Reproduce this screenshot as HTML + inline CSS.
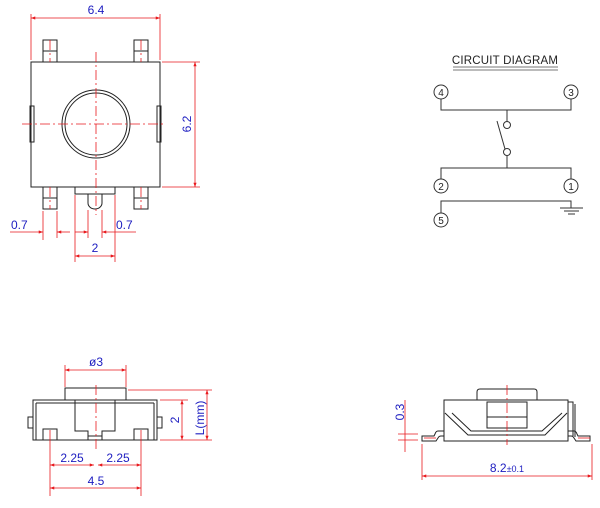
<!DOCTYPE html>
<html><head><style>
html,body{margin:0;padding:0;background:#fff;}
svg{display:block;}
text{font-family:"Liberation Sans",sans-serif;font-size:12px;fill:#1c1cc0;}
.k{stroke:#222;stroke-width:1;fill:none;}
.r{stroke:#e8191d;stroke-width:0.8;fill:none;}
.c{stroke:#e8191d;stroke-width:0.8;fill:none;stroke-dasharray:10 3 2 3;}
.ck{stroke:#333;stroke-width:1;fill:none;}
</style></head><body>
<svg width="600" height="508" viewBox="0 0 600 508" xmlns="http://www.w3.org/2000/svg">
<defs>
<marker id="a" viewBox="0 0 8 6" refX="8" refY="3" markerWidth="6" markerHeight="4" orient="auto-start-reverse"><path d="M0,0L8,3L0,6z" fill="#e8191d"/></marker>
</defs>
<!-- TOP VIEW -->
<rect class="k" x="31" y="62" width="129" height="125"/>
<circle class="k" cx="96" cy="124" r="34"/>
<circle class="k" cx="96" cy="124" r="31"/>
<rect class="k" x="43" y="40" width="14" height="22"/>
<rect class="k" x="134" y="40" width="14" height="22"/>
<rect class="k" x="43" y="187" width="14" height="22"/>
<rect class="k" x="134" y="187" width="14" height="22"/>
<line class="k" x1="43" y1="51" x2="57" y2="51"/><line class="k" x1="134" y1="51" x2="148" y2="51"/>
<line class="k" x1="43" y1="198" x2="57" y2="198"/><line class="k" x1="134" y1="198" x2="148" y2="198"/>
<rect class="k" x="30" y="106" width="4" height="36"/>
<rect class="k" x="157" y="106" width="4" height="36"/>
<rect class="k" x="75" y="187" width="40" height="7"/>
<path class="k" d="M88,194V203A7,6 0 0 0 102,203V194"/>
<line class="c" x1="96" y1="52" x2="96" y2="215"/>
<line class="c" x1="22" y1="124" x2="166" y2="124"/>
<line class="c" x1="50" y1="40" x2="50" y2="62"/><line class="c" x1="141" y1="40" x2="141" y2="62"/>
<line class="c" x1="50" y1="187" x2="50" y2="209"/><line class="c" x1="141" y1="187" x2="141" y2="209"/>
<!-- 6.4 -->
<line class="r" x1="31" y1="14" x2="31" y2="60"/><line class="r" x1="160" y1="14" x2="160" y2="60"/>
<line class="r" x1="31" y1="18" x2="160" y2="18" marker-start="url(#a)" marker-end="url(#a)"/>
<text x="96" y="14" text-anchor="middle">6.4</text>
<!-- 6.2 -->
<line class="r" x1="162" y1="62" x2="200" y2="62"/><line class="r" x1="162" y1="187" x2="200" y2="187"/>
<line class="r" x1="195" y1="62" x2="195" y2="187" marker-start="url(#a)" marker-end="url(#a)"/>
<text transform="translate(191,124) rotate(-90)" text-anchor="middle">6.2</text>
<!-- 0.7 left -->
<line class="r" x1="43" y1="211" x2="43" y2="240"/><line class="r" x1="57" y1="211" x2="57" y2="238"/>
<line class="r" x1="10" y1="232" x2="43" y2="232" marker-end="url(#a)"/>
<line class="r" x1="57" y1="232" x2="70" y2="232" marker-start="url(#a)"/>
<text x="11" y="229">0.7</text>
<!-- 0.7 right -->
<line class="r" x1="75" y1="195" x2="75" y2="262"/><line class="r" x1="115" y1="195" x2="115" y2="262"/>
<line class="r" x1="88" y1="210" x2="88" y2="238"/><line class="r" x1="102" y1="210" x2="102" y2="238"/>
<line class="r" x1="75" y1="232" x2="88" y2="232" marker-end="url(#a)"/>
<line class="r" x1="102" y1="232" x2="136" y2="232" marker-start="url(#a)"/>
<text x="116" y="229">0.7</text>
<line class="r" x1="75" y1="256" x2="115" y2="256" marker-start="url(#a)" marker-end="url(#a)"/>
<text x="95" y="252" text-anchor="middle">2</text>

<!-- CIRCUIT -->
<text x="505" y="64" text-anchor="middle" style="fill:#222;font-size:11.5px;letter-spacing:0.2px">CIRCUIT DIAGRAM</text>
<line x1="453" y1="67" x2="558" y2="67" stroke="#777" stroke-width="1"/>
<line x1="453" y1="70" x2="558" y2="70" stroke="#777" stroke-width="1"/>
<g class="ck">
<circle cx="441" cy="92" r="7"/><circle cx="571" cy="92" r="7"/>
<circle cx="441" cy="186" r="7"/><circle cx="571" cy="186" r="7"/>
<circle cx="441" cy="220" r="7"/>
<path d="M441,99V110H571V99M507,110V121"/>
<circle cx="507" cy="125" r="3.5"/>
<line x1="497" y1="121" x2="505" y2="149"/>
<circle cx="507" cy="152" r="3.5"/>
<path d="M507,156V168M441,179V168H571V179"/>
<path d="M441,213V201H571V208"/>
<path d="M560,208H583M564,211H579M568,214H575"/>
</g>
<g>
<text x="441" y="96" text-anchor="middle" style="fill:#222;font-size:10px">4</text>
<text x="571" y="96" text-anchor="middle" style="fill:#222;font-size:10px">3</text>
<text x="441" y="190" text-anchor="middle" style="fill:#222;font-size:10px">2</text>
<text x="571" y="190" text-anchor="middle" style="fill:#222;font-size:10px">1</text>
<text x="441" y="224" text-anchor="middle" style="fill:#222;font-size:10px">5</text>
</g>

<!-- SIDE VIEW LEFT -->
<rect class="k" x="65" y="388" width="61" height="12"/>
<rect class="k" x="33" y="400" width="124" height="40"/>
<line class="k" x1="36" y1="403" x2="154" y2="403"/>
<line class="k" x1="36" y1="403" x2="36" y2="440"/><line class="k" x1="154" y1="403" x2="154" y2="440"/>
<path class="k" d="M75,400V431H88V440M115,400V431H102V440M88,436H102"/>
<rect class="k" x="43" y="429" width="14" height="11"/>
<rect class="k" x="134" y="429" width="14" height="11"/>
<rect class="k" x="28" y="417" width="5" height="11"/>
<rect class="k" x="157" y="417" width="5" height="11"/>
<line class="c" x1="96" y1="385" x2="96" y2="450"/>
<line class="r" x1="65" y1="365" x2="65" y2="387"/><line class="r" x1="126" y1="365" x2="126" y2="387"/>
<line class="r" x1="65" y1="370" x2="126" y2="370" marker-start="url(#a)" marker-end="url(#a)"/>
<text x="96" y="366" text-anchor="middle">ø3</text>
<line class="r" x1="128" y1="390" x2="212" y2="390"/>
<line class="r" x1="160" y1="400" x2="188" y2="400"/>
<line class="r" x1="160" y1="440" x2="212" y2="440"/>
<line class="r" x1="182" y1="400" x2="182" y2="440" marker-start="url(#a)" marker-end="url(#a)"/>
<line class="r" x1="207" y1="390" x2="207" y2="440" marker-start="url(#a)" marker-end="url(#a)"/>
<text transform="translate(179,420) rotate(-90)" text-anchor="middle">2</text>
<text transform="translate(204,418) rotate(-90)" text-anchor="middle">L(mm)</text>
<line class="r" x1="50" y1="430" x2="50" y2="496"/><line class="r" x1="141" y1="430" x2="141" y2="496"/>
<line class="r" x1="50" y1="465" x2="94" y2="465" marker-start="url(#a)" marker-end="url(#a)"/>
<line class="r" x1="98" y1="465" x2="141" y2="465" marker-start="url(#a)" marker-end="url(#a)"/>
<text x="72" y="462" text-anchor="middle">2.25</text>
<text x="118" y="462" text-anchor="middle">2.25</text>
<line class="r" x1="50" y1="488" x2="141" y2="488" marker-start="url(#a)" marker-end="url(#a)"/>
<text x="96" y="485" text-anchor="middle">4.5</text>

<!-- SIDE VIEW RIGHT -->
<path class="k" d="M477,400V392Q477,389 480,389H534Q537,389 537,392V400"/>
<rect class="k" x="444" y="400" width="124" height="41"/>
<rect class="k" x="487" y="402" width="40" height="26"/>
<line class="k" x1="487" y1="417" x2="527" y2="417"/>
<path class="k" d="M445,413L468,435H545L567,413"/>
<path class="k" d="M452,413L471,431H542L562,413"/>
<path class="k" d="M568,402H573V436M575,404V437"/>
<path class="k" d="M444,431H438Q436,431 435,434L434,436H422V441H436L438,438Q439,436 441,436H444"/>
<path class="k" d="M568,431H574Q576,431 577,434L578,436H590V441H576L574,438Q573,436 571,436H568"/>
<line class="c" x1="507" y1="385" x2="507" y2="445"/>
<line class="r" x1="424" y1="438" x2="436" y2="438"/><line class="r" x1="578" y1="438" x2="590" y2="438"/>
<line class="r" x1="422" y1="444" x2="422" y2="480"/><line class="r" x1="592" y1="444" x2="592" y2="480"/>
<line class="r" x1="422" y1="476" x2="592" y2="476" marker-start="url(#a)" marker-end="url(#a)"/>
<text x="507" y="472" text-anchor="middle">8.2<tspan style="font-size:9px">±0.1</tspan></text>
<line class="r" x1="405" y1="400" x2="405" y2="452"/>
<line class="r" x1="398" y1="434" x2="418" y2="434"/><line class="r" x1="398" y1="440" x2="418" y2="440"/>
<text transform="translate(404,412) rotate(-90)" text-anchor="middle">0.3</text>
</svg>
</body></html>
